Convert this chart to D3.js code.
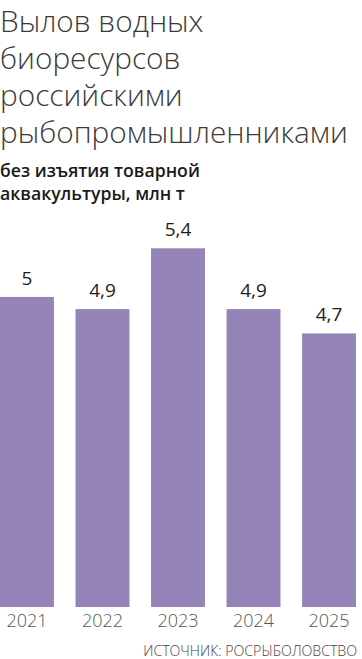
<!DOCTYPE html>
<html><head><meta charset="utf-8">
<script src="https://cdn.jsdelivr.net/npm/d3@7/dist/d3.min.js"></script>
<style>
html,body{margin:0;padding:0;background:#fff;}
svg{display:block;}
</style></head>
<body>
<svg id="c" width="362" height="659"></svg>
<script>
const years = ["2021","2022","2023","2024","2025"];
const values = [5.0, 4.9, 5.4, 4.9, 4.7];
const valueLabels = ["5","4,9","5,4","4,9","4,7"];
const titleLines = ["Вылов водных","биоресурсов","российскими","рыбопромышленниками"];
const subtitleLines = ["без изъятия товарной","аквакультуры, млн т"];
const sourceText = "ИСТОЧНИК: РОСРЫБОЛОВСТВО";

const svg = d3.select("#c");
const barColor = "#9584b8";

// title
const title = svg.append("g");
titleLines.forEach((t,i)=>{
  title.append("text").attr("x",0).attr("y",32+i*37)
    .attr("font-family","'Open Sans', sans-serif").attr("font-weight",300)
    .attr("font-size",32).attr("fill","#3a3a3a").text(t);
});
const longest = title.selectAll("text").filter((d,i)=>i===3).node();
const tl = longest.getComputedTextLength();
title.selectAll("text").attr("font-size", 32*348/tl);

const sub = svg.append("g");
subtitleLines.forEach((t,i)=>{
  sub.append("text").attr("x",0).attr("y",177+i*23)
    .attr("font-family","'Open Sans', sans-serif").attr("font-weight",600)
    .attr("font-size",16).attr("fill","#1a1a1a").text(t);
});
const sl = sub.select("text").node().getComputedTextLength();
sub.selectAll("text").attr("font-size", 16*200/sl);

// scales
const x = d3.scaleBand().domain(years).range([0,356]).paddingInner(0.286).paddingOuter(0);
const y = d3.scaleLinear().domain([2.45, 5.4]).range([607, 248.3]);

svg.append("g").selectAll("rect").data(values).join("rect")
  .attr("x",(d,i)=>x(years[i])).attr("width",x.bandwidth())
  .attr("y",d=>y(d)).attr("height",d=>607-y(d))
  .attr("fill",barColor);

svg.append("g").selectAll("text").data(values).join("text")
  .attr("x",(d,i)=>x(years[i])+x.bandwidth()/2)
  .attr("y",d=>y(d)-12)
  .attr("text-anchor","middle")
  .attr("font-family","'Open Sans', sans-serif").attr("font-size",19)
  .attr("fill","#1e1e1e").text((d,i)=>valueLabels[i]);

// x axis labels
const xAxis = d3.axisBottom(x).tickSize(0).tickPadding(0);
const ax = svg.append("g").attr("transform","translate(0,607)").call(xAxis);
ax.select(".domain").remove();
ax.selectAll("text").attr("y",20).attr("dy",0)
  .attr("font-family","'Open Sans', sans-serif").attr("font-weight",300)
  .attr("font-size",18).attr("fill","#555");

svg.append("text").attr("x",357).attr("y",656).attr("text-anchor","end")
  .attr("font-family","'Open Sans', sans-serif").attr("font-weight",300)
  .attr("font-size",15).attr("fill","#444").text(sourceText)
  .each(function(){ const l=this.getComputedTextLength(); d3.select(this).attr("font-size",15*214/l); });
</script>
</body></html>
